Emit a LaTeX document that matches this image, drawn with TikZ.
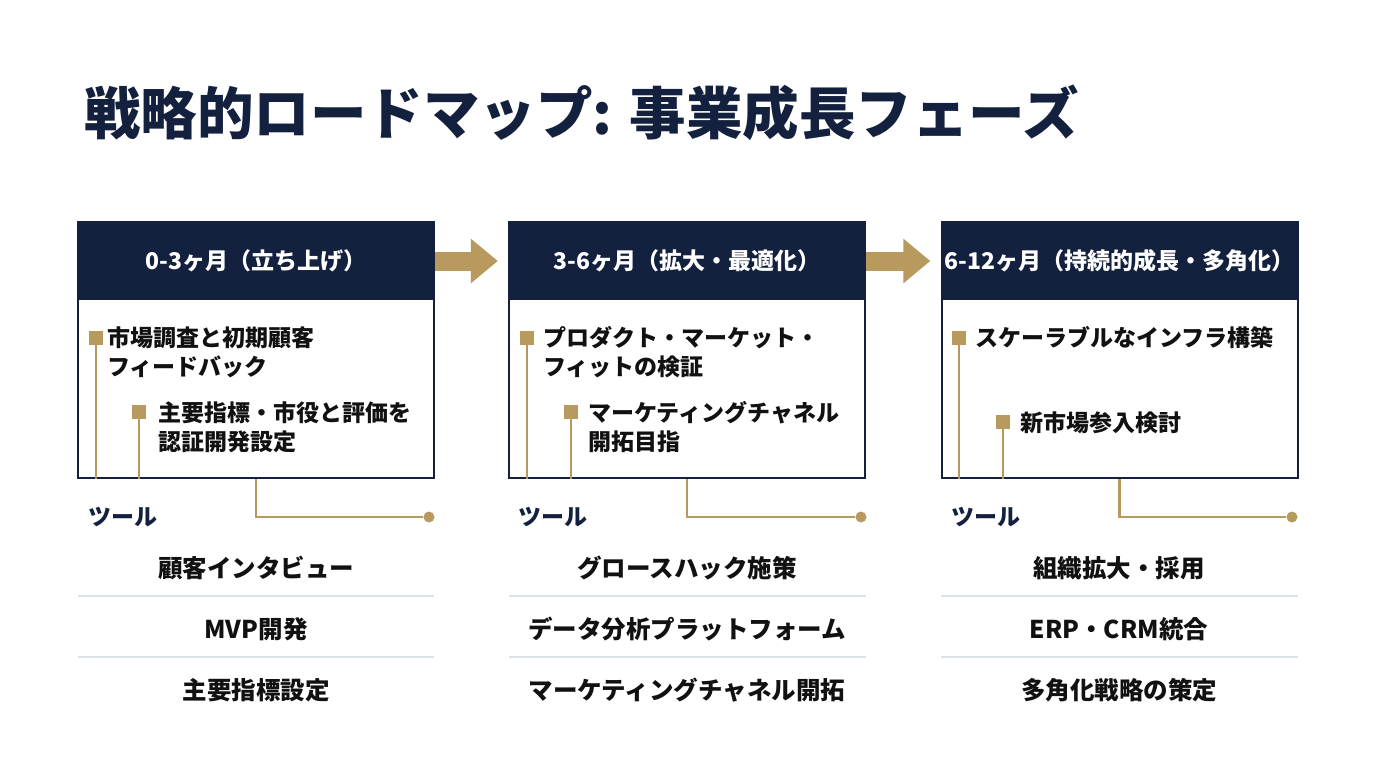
\documentclass[tikz,border=0pt]{standalone}
\usepackage{fontspec}
\setmainfont{Noto Sans CJK JP}
\usetikzlibrary{arrows.meta,calc}
\definecolor{navy}{HTML}{13213F}
\definecolor{gold}{HTML}{B8995E}
\definecolor{sep}{HTML}{DDE2E8}
\definecolor{ink}{HTML}{111111}
\tikzset{
  box/.style={draw=navy,line width=2pt,minimum width=356pt,minimum height=256pt,inner sep=0pt,fill=white},
  hdr/.style={fill=navy,minimum width=356pt,minimum height=78pt,inner sep=0pt,text=white,font=\fontsize{23}{27}\selectfont\bfseries},
  sq/.style={fill=gold,minimum width=14pt,minimum height=14pt,inner sep=0pt},
  gline/.style={draw=gold,line width=2.8pt},
  btxt/.style={anchor=west,inner sep=0pt,align=left,text=ink,font=\fontsize{23}{29}\selectfont\bfseries},
  tool/.style={inner sep=0pt,text=ink,font=\fontsize{24.5}{28}\selectfont\bfseries},
  tlabel/.style={anchor=west,inner sep=0pt,text=navy,font=\fontsize{23}{28}\selectfont\bfseries},
  dot/.style={circle,fill=gold,minimum size=11pt,inner sep=0pt},
  bigarrow/.style={draw=gold,line width=19pt,-{Triangle[length=27pt,width=43pt]},shorten >=11pt,shorten <=1pt},
  seprule/.style={draw=sep,line width=2pt}
}
\begin{document}
\begin{tikzpicture}[x=1pt,y=-1pt]
\useasboundingbox[fill=white] (0,0) rectangle (1376,768);
% title
\node[anchor=west,inner sep=0pt,text=navy,font=\fontsize{56.5}{62}\selectfont\bfseries] (title) at (84,113) {戦略的ロードマップ: 事業成長フェーズ};

% ---------- column 1 ----------
\node[box] (b1) at (256,350) {};
\node[hdr] (h1) at (256,261) {0-3ヶ月（立ち上げ）};
\node[sq] (s11) at (96,338) {};
\node[btxt] (t11) at (107,352.5) {市場調査と初期顧客\\フィードバック};
\node[sq] (s12) at (139,412) {};
\node[btxt] (t12) at (158,427) {主要指標・市役と評価を\\認証開発設定};
\draw[gline] (s11.south) -- (s11.south |- b1.south);
\draw[gline] (s12.south) -- (s12.south |- b1.south);
\node[dot] (d1) at (429,517) {};
\draw[gline] (b1.south) |- (d1);
\node[tlabel] (l1) at (88,517) {ツール};
\node[tool] (u11) at (256,568) {顧客インタビュー};
\node[tool] (u12) at (256,629) {MVP開発};
\node[tool] (u13) at (256,690) {主要指標設定};
\coordinate (p1a) at (78,596); \coordinate (p1b) at (434,596);
\coordinate (p1c) at (78,657); \coordinate (p1d) at (434,657);
\draw[seprule] (p1a) -- (p1b);
\draw[seprule] (p1c) -- (p1d);

% ---------- column 2 ----------
\node[box] (b2) at (687,350) {};
\node[hdr] (h2) at (687,261) {3-6ヶ月（拡大・最適化）};
\node[sq] (s21) at (527,338) {};
\node[btxt] (t21) at (543,352.5) {プロダクト・マーケット・\\フィットの検証};
\node[sq] (s22) at (571,412) {};
\node[btxt] (t22) at (588,427) {マーケティングチャネル\\開拓目指};
\draw[gline] (s21.south) -- (s21.south |- b2.south);
\draw[gline] (s22.south) -- (s22.south |- b2.south);
\node[dot] (d2) at (861,517) {};
\draw[gline] (b2.south) |- (d2);
\node[tlabel] (l2) at (518,517) {ツール};
\node[tool] (u21) at (687,568) {グロースハック施策};
\node[tool] (u22) at (687,629) {データ分析プラットフォーム};
\node[tool] (u23) at (687,690) {マーケティングチャネル開拓};
\coordinate (p2a) at (509,596); \coordinate (p2b) at (866,596);
\coordinate (p2c) at (509,657); \coordinate (p2d) at (866,657);
\draw[seprule] (p2a) -- (p2b);
\draw[seprule] (p2c) -- (p2d);

% ---------- column 3 ----------
\node[box] (b3) at (1119.5,350) {};
\node[hdr] (h3) at (1119.5,261) {6-12ヶ月（持続的成長・多角化）};
\node[sq] (s31) at (959,338) {};
\node[btxt] (t31) at (975,338) {スケーラブルなインフラ構築};
\node[sq] (s32) at (1003,422) {};
\node[btxt] (t32) at (1020,423) {新市場参入検討};
\draw[gline] (s31.south) -- (s31.south |- b3.south);
\draw[gline] (s32.south) -- (s32.south |- b3.south);
\node[dot] (d3) at (1292,517) {};
\draw[gline] (b3.south) |- (d3);
\node[tlabel] (l3) at (951,517) {ツール};
\node[tool] (u31) at (1119,568) {組織拡大・採用};
\node[tool] (u32) at (1119,629) {ERP・CRM統合};
\node[tool] (u33) at (1119,690) {多角化戦略の策定};
\coordinate (p3a) at (941,596); \coordinate (p3b) at (1298,596);
\coordinate (p3c) at (941,657); \coordinate (p3d) at (1298,657);
\draw[seprule] (p3a) -- (p3b);
\draw[seprule] (p3c) -- (p3d);

% ---------- arrows ----------
\draw[bigarrow] (h1.east) -- (h2.west);
\draw[bigarrow] (h2.east) -- (h3.west);
\end{tikzpicture}
\end{document}
